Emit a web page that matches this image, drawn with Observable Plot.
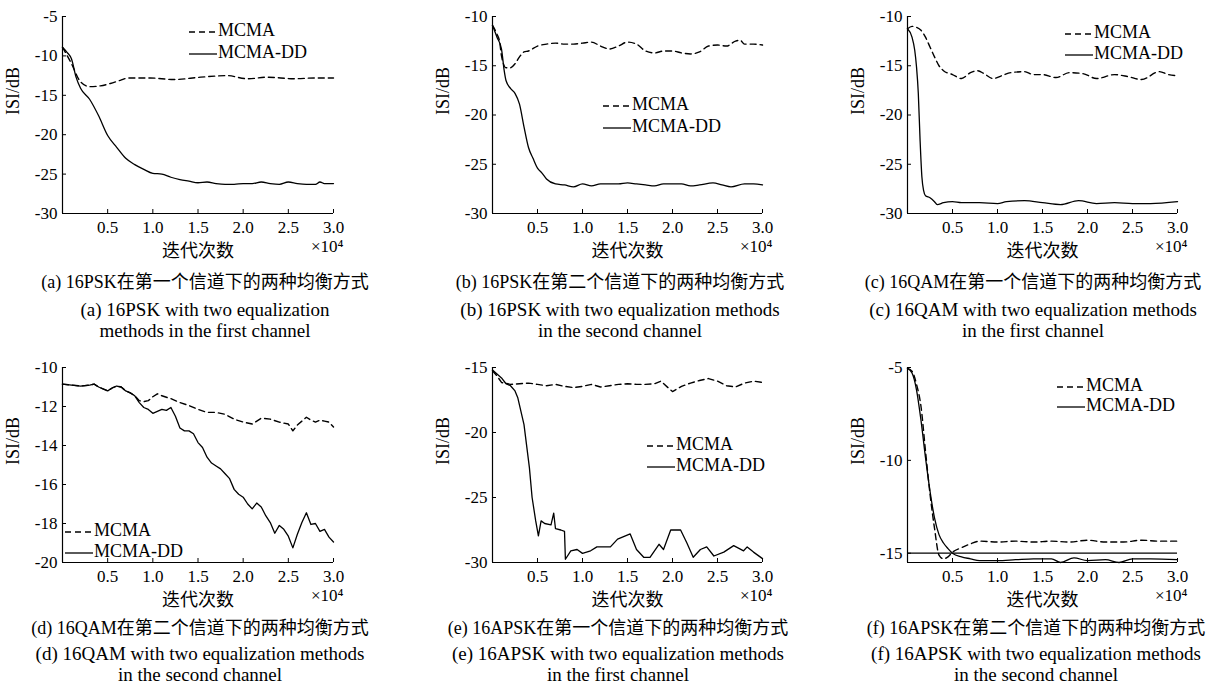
<!DOCTYPE html>
<html><head><meta charset="utf-8">
<script src="https://cdn.jsdelivr.net/npm/d3@7"></script>
<script src="https://cdn.jsdelivr.net/npm/@observablehq/plot@0.6"></script>
<style>
body{margin:0;background:#fff;width:1227px;height:686px;position:relative;overflow:hidden;font-family:"Liberation Serif","Times New Roman","Noto Sans CJK SC",serif;color:#000}
.panel{position:absolute}
.cap{position:absolute;width:440px;text-align:center;white-space:nowrap;line-height:1;transform:translateY(-50%)}
.zh{font-size:18px}
.en{font-size:19px}
.leg{position:absolute;height:20px;line-height:20px;font-size:18px;white-space:nowrap;transform:translateY(-50%)}
.leg svg{vertical-align:middle;margin-right:1px}
</style>
</head><body>
<script>
// x values in units of 10^4 iterations, y values in dB
const xTicks = [0.5, 1.0, 1.5, 2.0, 2.5, 3.0];
const seriesNames = ["MCMA", "MCMA-DD"];

// (a) 16PSK, channel 1
const aMCMA = [[0,-8.9],[0.1,-11.0],[0.2,-13.3],[0.3,-13.9],[0.42,-13.8],[0.53,-13.5],[0.64,-13.1],[0.73,-12.8],[0.97,-12.8],[1.23,-13.0],[1.53,-12.7],[1.82,-12.5],[2.05,-12.9],[2.27,-12.7],[2.56,-12.9],[2.79,-12.8],[3.0,-12.8]];
const aDD = [[0,-8.9],[0.05,-9.55],[0.1,-10.4],[0.15,-12.7],[0.2,-14.1],[0.3,-15.5],[0.4,-17.6],[0.5,-20.1],[0.6,-21.6],[0.7,-23.0],[0.8,-23.8],[0.9,-24.4],[1.0,-24.9],[1.1,-25.0],[1.2,-25.4],[1.3,-25.7],[1.4,-25.9],[1.5,-26.1],[1.6,-26.0],[1.7,-26.2],[1.8,-26.3],[1.9,-26.3],[2.0,-26.2],[2.1,-26.2],[2.2,-26.0],[2.3,-26.2],[2.4,-26.3],[2.5,-26.0],[2.6,-26.2],[2.7,-26.3],[2.8,-26.3],[2.85,-26.0],[2.9,-26.2],[3.0,-26.2]];
const aYTicks = [-5,-10,-15,-20,-25,-30];

// (b) 16PSK, channel 2
const bMCMA = [[0,-10.9],[0.05,-11.8],[0.08,-12.6],[0.1,-14.0],[0.15,-15.2],[0.2,-15.2],[0.25,-14.8],[0.3,-14.1],[0.35,-13.6],[0.4,-13.5],[0.5,-13.0],[0.6,-12.8],[0.7,-12.7],[0.8,-12.8],[0.9,-12.8],[1.0,-12.7],[1.1,-12.6],[1.2,-13.0],[1.3,-13.3],[1.4,-13.0],[1.5,-12.6],[1.6,-12.8],[1.7,-13.5],[1.8,-13.7],[1.9,-13.5],[2.0,-13.5],[2.1,-13.7],[2.2,-13.8],[2.3,-13.6],[2.4,-13.0],[2.5,-12.9],[2.6,-13.0],[2.7,-12.5],[2.75,-12.4],[2.8,-12.8],[2.9,-12.8],[3.0,-12.9]];
const bDD = [[0,-10.9],[0.05,-12.1],[0.1,-13.3],[0.13,-15.5],[0.15,-16.5],[0.2,-17.3],[0.25,-17.8],[0.3,-18.9],[0.35,-21.2],[0.4,-23.3],[0.45,-24.4],[0.5,-25.4],[0.55,-25.9],[0.6,-26.5],[0.7,-27.0],[0.8,-27.1],[0.9,-27.3],[1.0,-27.0],[1.1,-27.2],[1.2,-27.0],[1.4,-27.0],[1.5,-26.9],[1.6,-27.0],[1.7,-27.1],[1.8,-27.2],[1.9,-27.0],[2.0,-27.0],[2.1,-27.0],[2.2,-27.2],[2.3,-27.1],[2.45,-26.9],[2.55,-27.1],[2.65,-27.3],[2.8,-27.0],[2.9,-27.0],[3.0,-27.1]];
const bYTicks = [-10,-15,-20,-25,-30];

// (c) 16QAM, channel 1
const cMCMA = [[0,-11.25],[0.05,-11.0],[0.1,-11.1],[0.15,-11.4],[0.2,-12.1],[0.25,-13.1],[0.3,-14.1],[0.35,-15.0],[0.4,-15.5],[0.5,-15.9],[0.6,-16.3],[0.7,-15.7],[0.78,-15.5],[0.85,-15.8],[0.95,-16.3],[1.05,-16.0],[1.15,-15.7],[1.3,-15.6],[1.4,-15.9],[1.5,-15.9],[1.65,-16.2],[1.8,-15.7],[1.95,-15.8],[2.1,-16.3],[2.3,-15.9],[2.45,-16.1],[2.6,-16.4],[2.8,-15.6],[2.9,-15.9],[3.0,-16.0]];
const cDD = [[0,-11.25],[0.05,-12.1],[0.08,-13.4],[0.1,-15.1],[0.12,-17.8],[0.14,-22.6],[0.16,-26.3],[0.18,-27.7],[0.2,-28.2],[0.25,-28.4],[0.3,-28.8],[0.33,-29.1],[0.4,-28.9],[0.5,-28.8],[0.6,-28.9],[0.8,-28.9],[1.0,-29.0],[1.1,-28.8],[1.3,-28.7],[1.5,-28.9],[1.7,-29.1],[1.9,-28.7],[2.1,-29.0],[2.3,-28.9],[2.5,-29.0],[2.7,-29.0],[3.0,-28.8]];
const cYTicks = [-10,-15,-20,-25,-30];

// (d) 16QAM, channel 2
const dMCMA = [[0,-10.85],[0.1,-10.9],[0.2,-10.95],[0.3,-10.9],[0.35,-10.85],[0.4,-11.0],[0.5,-11.2],[0.55,-11.05],[0.6,-10.95],[0.65,-11.0],[0.7,-11.2],[0.75,-11.3],[0.8,-11.45],[0.85,-11.7],[0.9,-11.75],[0.95,-11.7],[1.0,-11.5],[1.05,-11.35],[1.1,-11.45],[1.2,-11.6],[1.3,-11.8],[1.4,-11.95],[1.5,-12.15],[1.6,-12.3],[1.7,-12.3],[1.8,-12.4],[1.9,-12.65],[2.0,-12.8],[2.1,-12.9],[2.2,-12.6],[2.3,-12.65],[2.4,-12.8],[2.5,-12.9],[2.55,-13.25],[2.6,-12.95],[2.65,-12.75],[2.7,-12.55],[2.75,-12.7],[2.8,-12.8],[2.85,-12.7],[2.9,-12.75],[2.95,-12.8],[3.0,-13.05]];
const dDD = [[0,-10.85],[0.1,-10.9],[0.2,-10.95],[0.3,-10.9],[0.35,-10.85],[0.4,-11.0],[0.5,-11.2],[0.55,-11.05],[0.6,-10.95],[0.65,-11.0],[0.7,-11.2],[0.75,-11.3],[0.8,-11.45],[0.85,-11.8],[0.9,-12.05],[0.95,-12.15],[1.0,-12.35],[1.05,-12.25],[1.1,-12.15],[1.15,-12.2],[1.2,-12.05],[1.25,-12.5],[1.3,-13.1],[1.35,-13.25],[1.4,-13.25],[1.45,-13.4],[1.5,-13.85],[1.55,-14.1],[1.6,-14.6],[1.65,-14.9],[1.7,-15.05],[1.75,-15.2],[1.8,-15.45],[1.85,-15.7],[1.9,-16.25],[1.95,-16.5],[2.0,-16.65],[2.05,-17.0],[2.1,-17.25],[2.15,-16.95],[2.2,-17.15],[2.25,-17.6],[2.3,-17.95],[2.35,-18.5],[2.4,-18.1],[2.45,-18.3],[2.5,-18.65],[2.55,-19.25],[2.6,-18.55],[2.65,-17.95],[2.7,-17.45],[2.75,-18.05],[2.8,-18.0],[2.85,-18.4],[2.9,-18.3],[2.95,-18.7],[3.0,-18.95]];
const dYTicks = [-10,-12,-14,-16,-18,-20];

// (e) 16APSK, channel 1
const eMCMA = [[0,-15.25],[0.05,-15.65],[0.1,-16.15],[0.2,-16.3],[0.3,-16.25],[0.4,-16.2],[0.5,-16.3],[0.6,-16.4],[0.7,-16.3],[0.8,-16.45],[0.9,-16.55],[1.0,-16.45],[1.1,-16.3],[1.2,-16.5],[1.3,-16.4],[1.4,-16.3],[1.5,-16.25],[1.6,-16.3],[1.7,-16.3],[1.8,-16.25],[1.87,-16.05],[1.95,-16.55],[2.0,-16.85],[2.1,-16.45],[2.2,-16.2],[2.3,-16.0],[2.4,-15.85],[2.5,-16.05],[2.6,-16.4],[2.7,-16.5],[2.8,-16.2],[2.9,-16.05],[3.0,-16.15]];
const eDD = [[0,-15.2],[0.05,-15.5],[0.1,-15.8],[0.15,-16.25],[0.2,-16.4],[0.25,-16.8],[0.28,-17.3],[0.35,-19.4],[0.41,-22.7],[0.44,-25.0],[0.48,-26.8],[0.51,-27.95],[0.54,-26.8],[0.58,-27.0],[0.65,-27.1],[0.68,-26.2],[0.7,-27.4],[0.76,-27.5],[0.8,-27.6],[0.81,-29.75],[0.87,-29.1],[0.94,-29.0],[1.0,-29.3],[1.09,-29.1],[1.16,-28.8],[1.31,-28.8],[1.39,-28.2],[1.53,-27.8],[1.6,-29.0],[1.68,-29.6],[1.75,-29.6],[1.85,-28.6],[1.9,-29.0],[1.98,-27.5],[2.09,-27.5],[2.16,-28.5],[2.23,-29.6],[2.31,-29.0],[2.38,-28.8],[2.46,-29.5],[2.57,-29.2],[2.68,-28.7],[2.79,-29.1],[2.83,-28.8],[2.9,-29.2],[3.0,-29.7]];
const eYTicks = [-15,-20,-25,-30];

// (f) 16APSK, channel 2
const fMCMA = [[0,-5.05],[0.05,-5.2],[0.1,-5.9],[0.15,-7.1],[0.2,-9.5],[0.25,-11.8],[0.3,-13.65],[0.35,-15.1],[0.4,-15.3],[0.45,-15.2],[0.5,-14.95],[0.6,-14.7],[0.7,-14.5],[0.8,-14.35],[1.0,-14.4],[1.2,-14.35],[1.4,-14.4],[1.6,-14.35],[1.8,-14.4],[2.0,-14.3],[2.2,-14.4],[2.4,-14.4],[2.6,-14.3],[2.8,-14.35],[3.0,-14.35]];
const fDD = [[0,-5.05],[0.05,-5.3],[0.1,-6.2],[0.15,-7.85],[0.2,-9.85],[0.25,-11.65],[0.3,-13.1],[0.35,-14.0],[0.4,-14.45],[0.45,-14.75],[0.5,-15.0],[0.6,-15.2],[0.7,-15.3],[0.8,-15.4],[1.0,-15.4],[1.2,-15.35],[1.4,-15.3],[1.6,-15.3],[1.7,-15.5],[1.85,-15.25],[2.0,-15.4],[2.2,-15.35],[2.35,-15.5],[2.5,-15.3],[2.7,-15.3],[3.0,-15.35]];
const fRef = [-15];
const fYTicks = [-5,-10,-15];

const captionsZh = [
  "(a) 16PSK在第一个信道下的两种均衡方式",
  "(b) 16PSK在第二个信道下的两种均衡方式",
  "(c) 16QAM在第一个信道下的两种均衡方式",
  "(d) 16QAM在第二个信道下的两种均衡方式",
  "(e) 16APSK在第一个信道下的两种均衡方式",
  "(f) 16APSK在第二个信道下的两种均衡方式"
];
const captionsEn = [
  ["(a) 16PSK with two equalization", "methods in the first channel"],
  ["(b) 16PSK with two equalization methods", "in the second channel"],
  ["(c) 16QAM with two equalization methods", "in the first channel"],
  ["(d) 16QAM with two equalization methods", "in the second channel"],
  ["(e) 16APSK with two equalization methods", "in the first channel"],
  ["(f) 16APSK with two equalization methods", "in the second channel"]
];

const FONT = '"Liberation Serif","Times New Roman","Noto Sans CJK SC",serif';

const panels = [
  {left:0,   top:0,   w:410, ml:62, mr:77, mt:16, plotH:197, dom:[-30,-5],    yt:aYTicks, m:aMCMA, dd:aDD, curve:"monotone-x", leg:[189,30,52]},
  {left:410, top:0,   w:410, ml:82, mr:58, mt:16, plotH:197, dom:[-30,-10],   yt:bYTicks, m:bMCMA, dd:bDD, curve:"monotone-x", leg:[603,104,126]},
  {left:820, top:0,   w:407, ml:87, mr:50, mt:16, plotH:197, dom:[-30,-10],   yt:cYTicks, m:cMCMA, dd:cDD, curve:"monotone-x", leg:[1065,32,53]},
  {left:0,   top:340, w:410, ml:62, mr:77, mt:27, plotH:195, dom:[-20,-10],   yt:dYTicks, m:dMCMA, dd:dDD, curve:"linear", leg:[65,530,551]},
  {left:410, top:340, w:410, ml:82, mr:58, mt:27, plotH:195, dom:[-30,-15],   yt:eYTicks, m:eMCMA, dd:eDD, curve:"linear", leg:[647,444,465]},
  {left:820, top:340, w:407, ml:87, mr:50, mt:27, plotH:195, dom:[-15.5,-5],  yt:fYTicks, m:fMCMA, dd:fDD, curve:"monotone-x", leg:[1057,385,405], ref:fRef}
];
const capCenters = [205, 620, 1033, 200, 618, 1036];

panels.forEach((p, i) => {
  const H = 262;
  const mb = H - p.mt - p.plotH;
  const marks = [
    Plot.axisX({ticks: xTicks, tickFormat: d3.format(".1f"), tickSize: -4, tickPadding: 11, label: null, fontSize: 17}),
    Plot.axisY({ticks: p.yt, tickFormat: d => String(d), tickSize: -4, tickPadding: 9, label: null, fontSize: 17}),
    Plot.ruleX([0], {stroke: "#000", strokeWidth: 1.2}),
    Plot.ruleY([p.dom[0]], {stroke: "#000", strokeWidth: 1.2}),
  ];
  if (p.ref) marks.push(Plot.ruleY(p.ref, {stroke: "#000", strokeWidth: 1.2}));
  marks.push(
    Plot.line(p.m, {x: d => d[0], y: d => d[1], stroke: "#000", strokeWidth: 1.4, strokeDasharray: "6,4", curve: p.curve}),
    Plot.line(p.dd, {x: d => d[0], y: d => d[1], stroke: "#000", strokeWidth: 1.3, curve: p.curve}),
    Plot.text(["ISI/dB"], {frameAnchor: "left", rotate: -90, dx: -49, fontSize: 18}),
    Plot.text(["迭代次数"], {frameAnchor: "bottom", dy: 43, fontSize: 18}),
    Plot.text(["×10⁴"], {frameAnchor: "bottom-right", textAnchor: "end", dx: 10, dy: 38, fontSize: 17})
  );
  const chart = Plot.plot({
    width: p.w, height: H,
    marginLeft: p.ml, marginRight: p.mr, marginTop: p.mt, marginBottom: mb,
    x: {domain: [0, 3]},
    y: {domain: p.dom},
    style: {fontFamily: FONT, fontSize: "17px", color: "#000", background: "transparent", overflow: "visible"},
    marks
  });
  const div = document.createElement("div");
  div.className = "panel";
  div.style.left = p.left + "px";
  div.style.top = p.top + "px";
  div.appendChild(chart);
  document.body.appendChild(div);

  // legend
  const [lx, y1, y2] = p.leg;
  [[y1, "6,4", seriesNames[0]], [y2, null, seriesNames[1]]].forEach(([yy, dash, name]) => {
    const lg = document.createElement("div");
    lg.className = "leg";
    lg.style.left = lx + "px";
    lg.style.top = yy + "px";
    lg.innerHTML = `<svg width="28" height="4"><line x1="0" y1="2" x2="28" y2="2" stroke="#000" stroke-width="1.3" ${dash ? `stroke-dasharray="${dash}"` : ""}/></svg>${name}`;
    document.body.appendChild(lg);
  });

  // captions
  const cy = p.top === 0 ? [282, 309, 330] : [628, 653, 674];
  const lines = [[captionsZh[i], "zh"], [captionsEn[i][0], "en"], [captionsEn[i][1], "en"]];
  lines.forEach(([t, cls], k) => {
    const c = document.createElement("div");
    c.className = "cap " + cls;
    c.style.left = (capCenters[i] - 220) + "px";
    c.style.top = cy[k] + "px";
    c.textContent = t;
    document.body.appendChild(c);
  });
});
</script>
</body></html>
